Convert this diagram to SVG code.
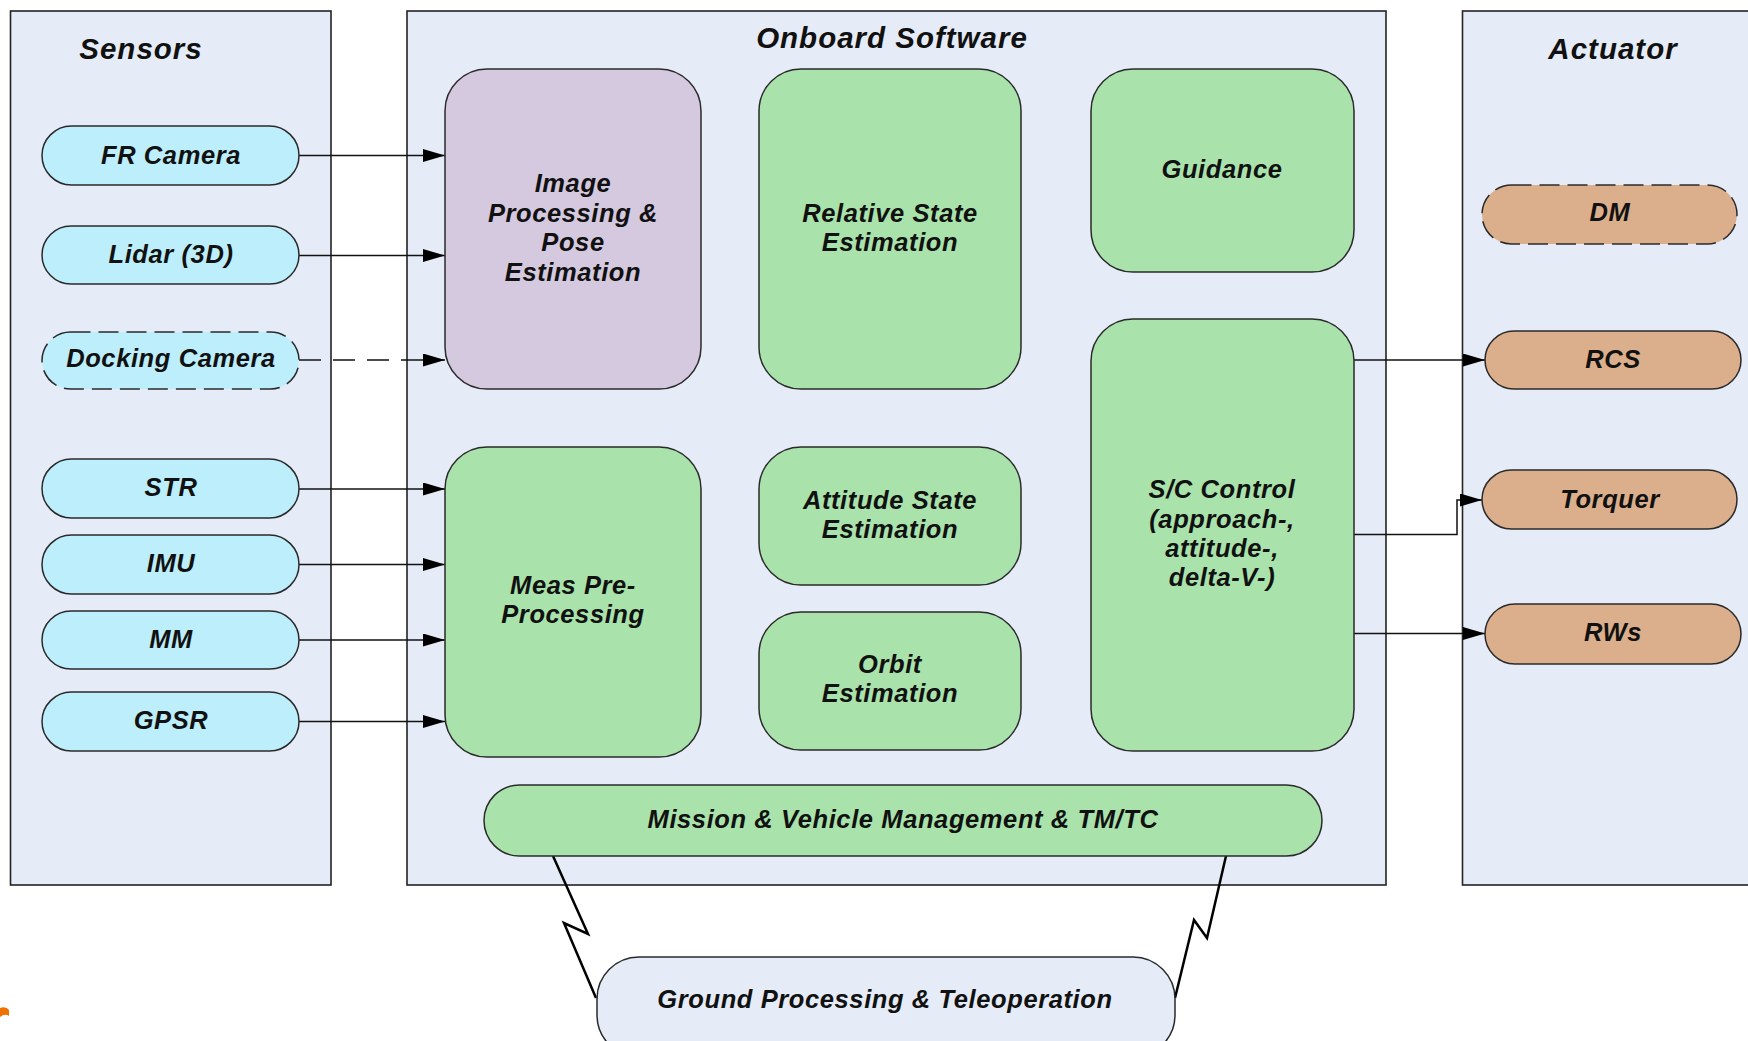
<svg xmlns="http://www.w3.org/2000/svg" width="1748" height="1041" viewBox="0 0 1748 1041">
<style>
.panel{fill:#E6ECF7;stroke:#222;stroke-width:1.6}
.node{stroke:#2a2a2a;stroke-width:1.5}
.sensor{fill:#BDEEFB}
.act{fill:#DBAF8B}
.green{fill:#A9E3AB}
.lav{fill:#D4C9DF}
.ground{fill:#E6ECF7}
.dash{stroke-dasharray:20 8}
text{font-family:"Liberation Sans",Arial,sans-serif;font-weight:bold;font-style:italic;fill:#111;text-anchor:middle}
.t{font-size:25.5px;letter-spacing:0.6px}
.title{font-size:29.5px;letter-spacing:1px}
.conn{fill:none;stroke:#111;stroke-width:1.5}
.bolt{fill:none;stroke:#000;stroke-width:2.5;stroke-linejoin:miter}
</style>
<defs>
<marker id="arr" markerUnits="userSpaceOnUse" viewBox="0 0 22 13" refX="22" refY="6.5" markerWidth="22" markerHeight="13" orient="auto">
<path d="M0,0 L22,6.5 L0,13 Z" fill="#000"/>
</marker>
</defs>
<rect width="1748" height="1041" fill="#fff"/>

<g id="panel-sensors"><rect class="panel" x="10.5" y="11" width="320.5" height="874"/><text class="title" x="141" y="59">Sensors</text></g>
<g id="panel-onboard"><rect class="panel" x="407" y="11" width="979" height="874"/><text class="title" x="892" y="48">Onboard Software</text></g>
<g id="panel-actuator"><rect class="panel" x="1462.5" y="11" width="300" height="874"/><text class="title" x="1613" y="59">Actuator</text></g>

<g id="connectors">
<line class="conn" x1="299" y1="155.5" x2="445" y2="155.5" marker-end="url(#arr)"/>
<line class="conn" x1="299" y1="255.5" x2="445" y2="255.5" marker-end="url(#arr)"/>
<line class="conn" x1="299" y1="360" x2="445" y2="360" stroke-dasharray="22 12" marker-end="url(#arr)"/>
<line class="conn" x1="299" y1="489" x2="445" y2="489" marker-end="url(#arr)"/>
<line class="conn" x1="299" y1="564.5" x2="445" y2="564.5" marker-end="url(#arr)"/>
<line class="conn" x1="299" y1="640" x2="445" y2="640" marker-end="url(#arr)"/>
<line class="conn" x1="299" y1="721.5" x2="445" y2="721.5" marker-end="url(#arr)"/>
<line class="conn" x1="1354" y1="360" x2="1485" y2="360" marker-end="url(#arr)"/>
<polyline class="conn" points="1354,534.5 1457,534.5 1457,500 1482,500" marker-end="url(#arr)"/>
<line class="conn" x1="1354" y1="633.5" x2="1485" y2="633.5" marker-end="url(#arr)"/>
<polyline class="bolt" points="553,856 588,934 564,923 596,998"/>
<polyline class="bolt" points="1226,856 1207,938 1194,920 1175,998"/>
</g>

<g id="fr-camera"><rect class="node sensor" x="42" y="126" width="257" height="59" rx="29.5"/><text class="t" x="171" y="164">FR Camera</text></g>
<g id="lidar"><rect class="node sensor" x="42" y="226" width="257" height="58" rx="29"/><text class="t" x="171" y="263">Lidar (3D)</text></g>
<g id="docking-camera"><rect class="node sensor dash" x="42" y="332" width="257" height="57" rx="28.5"/><text class="t" x="171" y="367">Docking Camera</text></g>
<g id="str"><rect class="node sensor" x="42" y="459" width="257" height="59" rx="29.5"/><text class="t" x="171" y="496">STR</text></g>
<g id="imu"><rect class="node sensor" x="42" y="535" width="257" height="59" rx="29.5"/><text class="t" x="171" y="572">IMU</text></g>
<g id="mm"><rect class="node sensor" x="42" y="611" width="257" height="58" rx="29"/><text class="t" x="171" y="647.5">MM</text></g>
<g id="gpsr"><rect class="node sensor" x="42" y="692" width="257" height="59" rx="29.5"/><text class="t" x="171" y="728.5">GPSR</text></g>

<g id="image-processing"><rect class="node lav" x="445" y="69" width="256" height="320" rx="42"/>
<text class="t" x="573" y="192">Image</text><text class="t" x="573" y="222">Processing &amp;</text><text class="t" x="573" y="251">Pose</text><text class="t" x="573" y="281">Estimation</text></g>
<g id="relative-state"><rect class="node green" x="759" y="69" width="262" height="320" rx="42"/>
<text class="t" x="890" y="222">Relative State</text><text class="t" x="890" y="251">Estimation</text></g>
<g id="guidance"><rect class="node green" x="1091" y="69" width="263" height="203" rx="42"/>
<text class="t" x="1222" y="177.5">Guidance</text></g>
<g id="meas-preprocessing"><rect class="node green" x="445" y="447" width="256" height="310" rx="42"/>
<text class="t" x="573" y="594">Meas Pre-</text><text class="t" x="573" y="623">Processing</text></g>
<g id="attitude-state"><rect class="node green" x="759" y="447" width="262" height="138" rx="42"/>
<text class="t" x="890" y="509">Attitude State</text><text class="t" x="890" y="538">Estimation</text></g>
<g id="orbit-estimation"><rect class="node green" x="759" y="612" width="262" height="138" rx="42"/>
<text class="t" x="890" y="672.5">Orbit</text><text class="t" x="890" y="702">Estimation</text></g>
<g id="sc-control"><rect class="node green" x="1091" y="319" width="263" height="432" rx="42"/>
<text class="t" x="1222" y="498">S/C Control</text><text class="t" x="1222" y="527.5">(approach-,</text><text class="t" x="1222" y="556.5">attitude-,</text><text class="t" x="1222" y="586">delta-V-)</text></g>
<g id="mission-management"><rect class="node green" x="484" y="785" width="838" height="71" rx="35.5"/>
<text class="t" x="903" y="827.5">Mission &amp; Vehicle Management &amp; TM/TC</text></g>

<g id="dm"><rect class="node act dash" x="1482" y="185" width="255" height="59" rx="29.5"/><text class="t" x="1610" y="220.5">DM</text></g>
<g id="rcs"><rect class="node act" x="1485" y="331" width="256" height="58" rx="29"/><text class="t" x="1613" y="367.5">RCS</text></g>
<g id="torquer"><rect class="node act" x="1482" y="470" width="255" height="59" rx="29.5"/><text class="t" x="1610" y="507.5">Torquer</text></g>
<g id="rws"><rect class="node act" x="1485" y="604" width="256" height="60" rx="30"/><text class="t" x="1613" y="641">RWs</text></g>

<g id="ground-processing"><rect class="node ground" x="597" y="957" width="578" height="100" rx="42"/>
<text class="t" x="885" y="1007.5">Ground Processing &amp; Teleoperation</text></g>

<path d="M0,1008 Q6,1006 9,1010 L9,1016 Q5,1013 0,1017 Z" fill="#F07000"/>
</svg>
